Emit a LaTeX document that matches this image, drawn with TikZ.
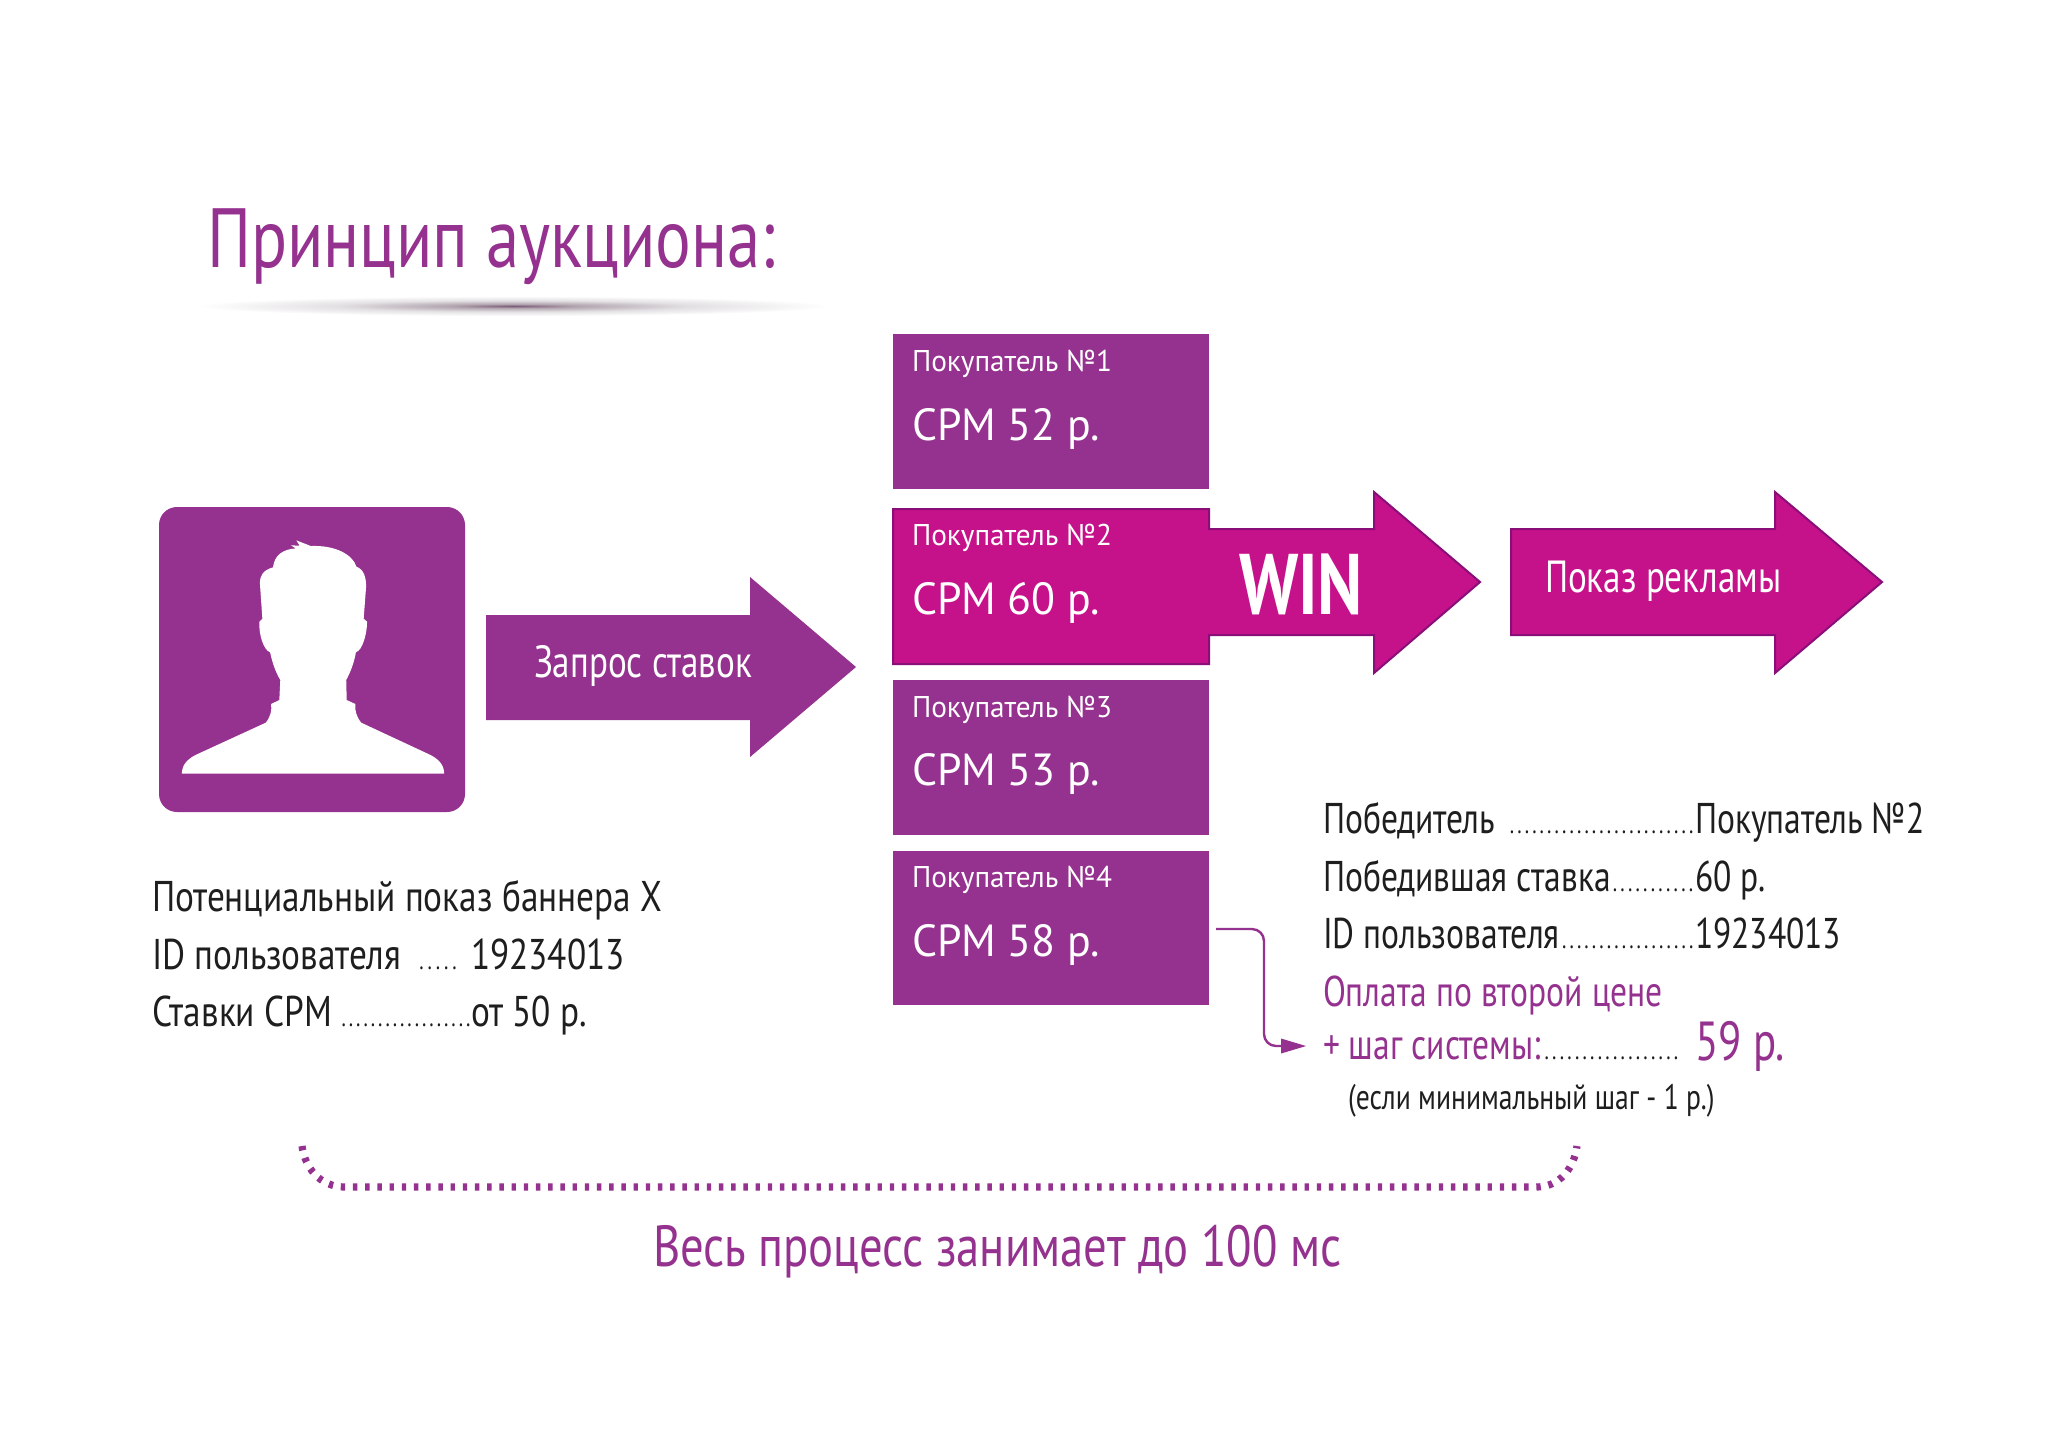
\documentclass[tikz,border=0pt]{standalone}
\usepackage{fontspec}
\setmainfont[FakeStretch=0.78]{PT Sans}
\newfontfamily\leftfont[FakeStretch=0.82]{PT Sans}
\newfontfamily\titlefont[FakeStretch=0.795]{PT Sans}
\newfontfamily\botfont[FakeStretch=0.805]{PT Sans}
\newfontfamily\boxfont[FakeStretch=0.975]{PT Sans}
\newfontfamily\winfont[FakeStretch=0.8]{PT Sans Bold}
\definecolor{plum}{HTML}{95318E}
\definecolor{mag}{HTML}{C6128A}
\definecolor{magedge}{HTML}{8A0E78}
\definecolor{ink}{HTML}{1E1E1E}
\definecolor{shA}{rgb}{0.49,0.36,0.47}
\definecolor{shB}{rgb}{0.70,0.65,0.69}
\definecolor{shC}{rgb}{0.89,0.88,0.89}
\definecolor{shD}{rgb}{1,1,1}
\newcommand\fs[1]{\fontsize{#1}{#1}\selectfont}
\newcommand\dotrow[1]{\hbox to #1{\xleaders\hbox to 3.65pt{\hss.\hss}\hfill}}
\pgfdeclareradialshading{softline}{\pgfpoint{0bp}{0bp}}{%
  color(0bp)=(shA);
  color(5bp)=(shB);
  color(14bp)=(shC);
  color(25bp)=(shD);
  color(50bp)=(shD)}
\tikzset{
  x=0.5pt,y=-0.5pt,
  txt/.style={anchor=base west,inner sep=0pt,outer sep=0pt},
  txr/.style={anchor=base east,inner sep=0pt,outer sep=0pt},
  body/.style={txt,text=ink,font=\fs{21.5}},
  bodyl/.style={txt,text=ink,font=\leftfont\fs{21.5}},
  bodyp/.style={txt,text=plum,font=\fs{21.5}},
  leadd/.style={txr,text=ink,font=\fs{13}},
  boxlab/.style={txt,text=white,font=\boxfont\fs{15}},
  boxcpm/.style={txt,text=white,font=\boxfont\fs{22.5}},
  arrowlab/.style={txt,text=white,font=\fs{22.5}},
  plumbox/.style={fill=plum},
  magshape/.style={fill=mag,draw=magedge,line width=1pt,line join=miter},
}
\begin{document}
\begin{tikzpicture}
\useasboundingbox (0,0) rectangle (2048,1448);
\fill[white] (0,0) rectangle (2048,1448);

% title
\node[txt,text=plum,font=\titlefont\fs{42}] (title) at (207,267) {Принцип аукциона:};
\shade[shading=softline] (514,306) ellipse [x radius=316,y radius=10];

% user card
\fill[plum,rounded corners=9pt] (159,507) rectangle (465,812);
\begin{scope}[shift={(65pt,-240pt)},x=0.2424pt,y=-0.16667pt]
\fill[white] (107,881) .. controls (107,855) and (118,838) .. (135,825) -- (280,728)
  .. controls (290,710) and (293,690) .. (291,672) -- (308,660) -- (310,600)
  .. controls (300,575) and (294,550) .. (289,517)
  .. controls (275,510) and (265,460) .. (267,425) -- (273,416) -- (268,310)
  .. controls (268,285) and (275,270) .. (295,262)
  .. controls (298,225) and (315,208) .. (342,205) -- (332,196) -- (350,197) -- (343,181) -- (373,198)
  .. controls (425,195) and (460,225) .. (467,260)
  .. controls (482,268) and (487,290) .. (487,320) -- (482,416) -- (489,425)
  .. controls (489,460) and (480,510) .. (466,517)
  .. controls (462,550) and (455,575) .. (446,600) -- (447,660) -- (465,672)
  .. controls (463,690) and (467,710) .. (477,728) -- (620,825)
  .. controls (637,838) and (648,855) .. (648,881) -- cycle;
\end{scope}

% request arrow
\fill[plum] (486,615) -- (750,615) -- (750,577) -- (856,667) -- (750,757) -- (750,720) -- (486,720) -- cycle;
\node[arrowlab] (req) at (534,677) {Запрос ставок};

% buyers
\fill[plumbox] (893,334) rectangle (1209,489);
\fill[plumbox] (893,680) rectangle (1209,835);
\fill[plumbox] (893,851) rectangle (1209,1005);
\draw[magshape] (893,509) -- (1209,509) -- (1209,529) -- (1374,529) -- (1374,492) -- (1480,582) -- (1374,673) -- (1374,635) -- (1209,635) -- (1209,664) -- (893,664) -- cycle;
\draw[magshape] (1511,529) -- (1775,529) -- (1775,492) -- (1882,582) -- (1775,673) -- (1775,635) -- (1511,635) -- cycle;

\node[boxlab] (b1) at (912,371) {Покупатель №1};
\node[boxcpm] (c1) at (912,440) {СРМ 52 р.};
\node[boxlab] (b2) at (912,545) {Покупатель №2};
\node[boxcpm] (c2) at (912,614) {СРМ 60 р.};
\node[boxlab] (b3) at (912,717) {Покупатель №3};
\node[boxcpm] (c3) at (912,785) {СРМ 53 р.};
\node[boxlab] (b4) at (912,887) {Покупатель №4};
\node[boxcpm] (c4) at (912,956) {СРМ 58 р.};
\node[txt,text=white,font=\winfont\fs{43}] (win) at (1239,614) {WIN};
\node[arrowlab] (show) at (1545,592) {Показ рекламы};

% left text
\node[bodyl] (l1) at (152,911) {Потенциальный показ баннера X};
\node[bodyl] (l2) at (152,969) {ID пользователя};
\node[leadd] (l2d) at (459,969) {\dotrow{21pt}};
\node[bodyl] (l2v) at (471,969) {19234013};
\node[bodyl] (l3) at (152,1026) {Ставки CPM};
\node[leadd] (l3d) at (472,1026) {\dotrow{66pt}};
\node[bodyl] (l3v) at (471,1026) {от 50 р.};

% right text
\node[body] (r1) at (1323,833) {Победитель};
\node[leadd] (r1d) at (1695,833) {\dotrow{93.4pt}};
\node[body] (r1v) at (1695,833) {Покупатель №2};
\node[body] (r2) at (1323,891) {Победившая ставка};
\node[leadd] (r2d) at (1695,891) {\dotrow{42pt}};
\node[body] (r2v) at (1695,891) {60 р.};
\node[body] (r3) at (1323,948) {ID пользователя};
\node[leadd] (r3d) at (1695,948) {\dotrow{67.3pt}};
\node[body] (r3v) at (1695,948) {19234013};
\node[bodyp] (r4) at (1323,1006) {Оплата по второй цене};
\node[bodyp] (r5) at (1323,1059) {+ шаг системы:};
\node[leadd] (r5d) at (1680,1059) {\dotrow{68.6pt}};
\node[txt,text=plum,font=\fs{27.5}] (r5v) at (1695,1060) {59 р.};
\node[txt,text=ink,font=\fs{17.7}] (r6) at (1348,1109) {(если минимальный шаг - 1 р.)};

% second-price connector
\coordinate (cs) at (1216,929);
\coordinate (ce) at (1306,1046);
\draw[plum,line width=1.2pt,rounded corners=6pt] (cs) -- (1264,929) -- (1264,1046) -- (1285,1046);
\fill[plum] (ce) -- (1281,1038.5) -- (1281,1053.5) -- cycle;

% dotted bracket
\draw[plum,line width=3.6pt,dash pattern=on 2.2pt off 3.9pt]
  (302,1146) .. controls (305,1168) and (320,1187) .. (345,1187) -- (1536,1187) .. controls (1560,1187) and (1574,1168) .. (1577,1146);

\node[txt,text=plum,font=\botfont\fs{29}] (bottom) at (653,1266) {Весь процесс занимает до 100 мс};
\end{tikzpicture}
\end{document}
